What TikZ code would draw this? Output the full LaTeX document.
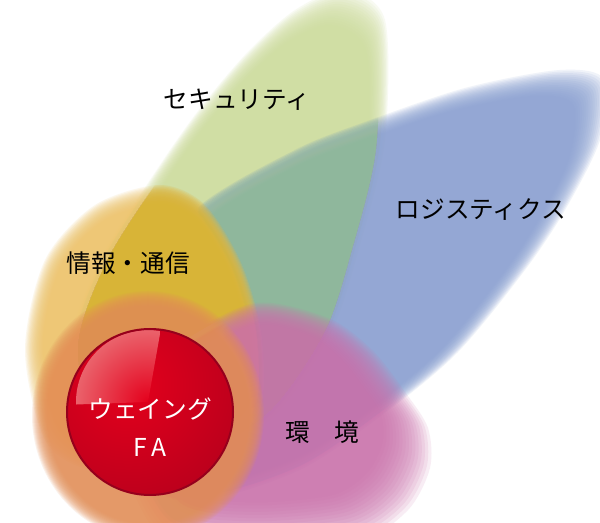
\documentclass[tikz,border=0pt]{standalone}
\usepackage{fontspec}
\setmainfont{Noto Sans CJK JP}
\usetikzlibrary{positioning}

\definecolor{secgreen}{RGB}{206,222,157}
\definecolor{logblue}{RGB}{138,160,210}
\definecolor{tealmix}{RGB}{150,190,154}
\definecolor{infoorange}{RGB}{238,196,104}
\definecolor{infomix}{RGB}{216,180,52}
\definecolor{envpink}{RGB}{204,114,172}
\definecolor{ringsalmon}{RGB}{228,144,88}
\definecolor{ballhi}{RGB}{228,0,28}
\definecolor{balllo}{RGB}{150,0,28}
\definecolor{shine}{RGB}{240,196,186}

\tikzset{
  petal/.style={fill=#1, fill opacity=0.125},
  petaltext/.style={font=\fontsize{18.5pt}{22pt}\selectfont, inner sep=0pt},
}

% soft edged leaf: [step], colour, centre x, centre y, outline points
\newcommand\softpetal[5][0.015]{%
  \foreach \k in {0,...,15}{%
    \pgfmathsetmacro\s{1-\k*#1*0.625}
    \fill[petal=#2, shift={(#3,#4)}, scale=\s, shift={(-#3,-#4)}]
      plot[smooth cycle] coordinates {#5};
  }%
}

\begin{document}
\begin{tikzpicture}[x=0.75pt, y=-0.75pt]
\useasboundingbox (0,0) rectangle (600,523);
\clip (0,0) rectangle (600,523);
\fill[white] (0,0) rectangle (600,523);

% security
\softpetal[0.012]{secgreen}{220}{300}{(95,450) (70,350) (100,260) (150,180) (195,115) (245,55) (295,10) (345,-10) (385,20) (385,140) (360,245) (330,335) (270,420) (180,470)}
% logistics
\softpetal[0.011]{logblue}{300}{320}{(110,480) (110,380) (140,300) (195,210) (295,150) (365,122) (465,88) (560,70) (605,80) (600,140) (565,210) (525,270) (458,352) (385,413) (300,470) (200,500)}
\begin{scope}
  \clip[shift={(220,300)}, scale=0.945, shift={(-220,-300)}] plot[smooth cycle] coordinates {(95,450) (70,350) (100,260) (150,180) (195,115) (245,55) (295,10) (345,-10) (385,20) (385,140) (360,245) (330,335) (270,420) (180,470)};
  \softpetal[0.011]{tealmix}{300}{320}{(110,480) (110,380) (140,300) (195,210) (295,150) (365,122) (465,88) (560,70) (605,80) (600,140) (565,210) (525,270) (458,352) (385,413) (300,470) (200,500)}
\end{scope}

% information
\softpetal{infoorange}{150}{320}{(45,440) (25,350) (45,260) (95,205) (160,185) (205,205) (242,265) (262,340) (255,420) (170,470) (90,470)}
\begin{scope}
  \clip[shift={(220,300)}, scale=0.945, shift={(-220,-300)}] plot[smooth cycle] coordinates {(95,450) (70,350) (100,260) (150,180) (195,115) (245,55) (295,10) (345,-10) (385,20) (385,140) (360,245) (330,335) (270,420) (180,470)};
  \softpetal{infomix}{150}{320}{(45,440) (25,350) (45,260) (95,205) (160,185) (205,205) (242,265) (262,340) (255,420) (170,470) (90,470)}
\end{scope}

% environment
\softpetal[0.03]{envpink}{260}{380}{(180,340) (255,303) (328,318) (372,350) (405,392) (428,428) (430,468) (408,510) (360,540) (250,550) (160,535) (120,450) (130,380)}

% ring round the ball
\foreach \k in {0,...,15}
  \fill[petal=ringsalmon] (148,415) circle[x radius=116-\k, y radius=124-\k];

% ball
\begin{scope}
  \clip (150,412) circle (83);
  \shade[inner color=ballhi, outer color=balllo] (128,385) circle (230);
  \clip (148,402) -- ++(-80:72) arc[start angle=-80, end angle=-182, radius=72] -- cycle;
  \shade[inner color=ballhi, outer color=shine] (148,402) circle (144);
\end{scope}
\draw[balllo, line width=1.5pt] (150,412) circle (83);

\node[petaltext] (sec) at (237,100) {セキュリティ};
\node[petaltext] (log) at (481,210) {ロジスティクス};
\node[petaltext] (info) at (128,263) {情報・通信};
\node[petaltext] (env) at (322,432) {環　境};
\node[petaltext, text=white] (wing) at (150,409) {ウェイング};
\node[petaltext, text=white] (fa) at (150,447) {F\hspace{3pt}A};
\end{tikzpicture}
\end{document}
